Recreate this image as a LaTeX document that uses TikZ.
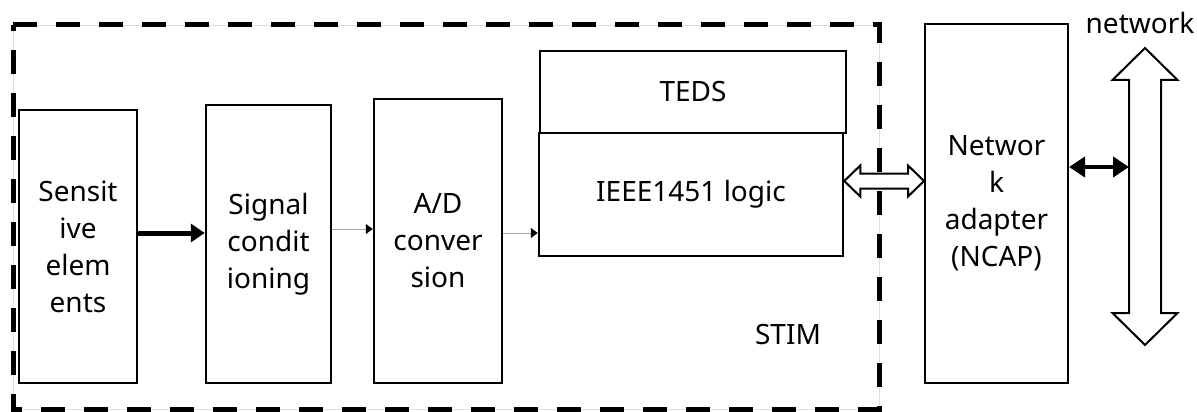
\documentclass[tikz,border=0pt]{standalone}
\usepackage{fontspec}
\setmainfont{Noto Sans}
\usetikzlibrary{arrows.meta,calc}
\begin{document}
\begin{tikzpicture}[x=1pt,y=-1pt,
  blk/.style={draw=black,line width=2.5pt,fill=white,align=center,inner sep=0pt,
    font=\fontsize{28}{37}\selectfont},
  lbl/.style={align=center,inner sep=0pt,font=\fontsize{28}{37}\selectfont},
  thinarrow/.style={draw=gray!70,line width=1pt,-{Triangle[length=7pt,width=10pt,black]}},
  hollow/.style={draw=black,line width=2pt,fill=white,line join=miter},
  stimbox/.style={draw=black,line width=5pt,dash pattern=on 24pt off 19pt}
]
\useasboundingbox (0,0) rectangle (1197,412);
% STIM dashed frame
\draw[gray!25,line width=0.6pt] (13,25) rectangle (879,409);
\draw[stimbox] (13,25) -- (879,25) -- (879,409) -- (13,409) -- cycle;
% blocks
\node[blk,minimum width=118pt,minimum height=273pt] (sens) at (78,246.5) {Sensit\\ive\\elem\\ents};
\node[blk,minimum width=125pt,minimum height=278pt] (sig) at (268.5,244) {Signal\\condit\\ioning};
\node[blk,minimum width=128pt,minimum height=284pt] (ad) at (438,241) {A/D\\conver\\sion};
\node[blk,minimum width=306pt,minimum height=82pt] (teds) at (693,92) {TEDS};
\node[blk,minimum width=304pt,minimum height=123pt] (ieee) at (691,194.5) {IEEE1451 logic};
\node[blk,line width=2pt,minimum width=143pt,minimum height=359pt] (ncap) at (996.5,203.5) {Networ\\k\\adapter\\(NCAP)};
\node[lbl] (stim) at (788,335) {STIM};
\node[lbl] (net) at (1140,23) {network};
% connectors
\draw[line width=5pt,-{Triangle[length=14pt,width=18pt]}] (sens.east |- 0,233) -- (sig.west |- 0,233);
\draw[thinarrow] (sig.east |- 0,229) -- (ad.west |- 0,229);
\draw[thinarrow] (ad.east |- 0,233) -- (ieee.west |- 0,233);
% hollow double arrow IEEE <-> NCAP
\coordinate (ha) at (ieee.east |- 0,181);
\coordinate (hb) at (ncap.west |- 0,181);
\draw[hollow] (ha) -- ($(ha)+(16,-15.5)$) -- ($(ha)+(16,-7.5)$) -- ($(hb)+(-16,-7.5)$)
  -- ($(hb)+(-16,-15.5)$) -- (hb) -- ($(hb)+(-16,15.5)$) -- ($(hb)+(-16,7.5)$)
  -- ($(ha)+(16,7.5)$) -- ($(ha)+(16,15.5)$) -- cycle;
% network bus arrow
\coordinate (nt) at (1145,48);
\coordinate (nb) at (1145,345);
\draw[hollow] (nt) -- ($(nt)+(32.5,32)$) -- ($(nt)+(16,32)$) -- ($(nb)+(16,-32)$)
  -- ($(nb)+(32.5,-32)$) -- (nb) -- ($(nb)+(-32.5,-32)$) -- ($(nb)+(-16,-32)$)
  -- ($(nt)+(-16,32)$) -- ($(nt)+(-32.5,32)$) -- cycle;
\coordinate (netL) at (1129,167);
\draw[line width=4pt,{Triangle[length=16pt,width=20pt]}-{Triangle[length=16pt,width=20pt]}] (ncap.east |- netL) -- (netL);
\end{tikzpicture}
\end{document}
